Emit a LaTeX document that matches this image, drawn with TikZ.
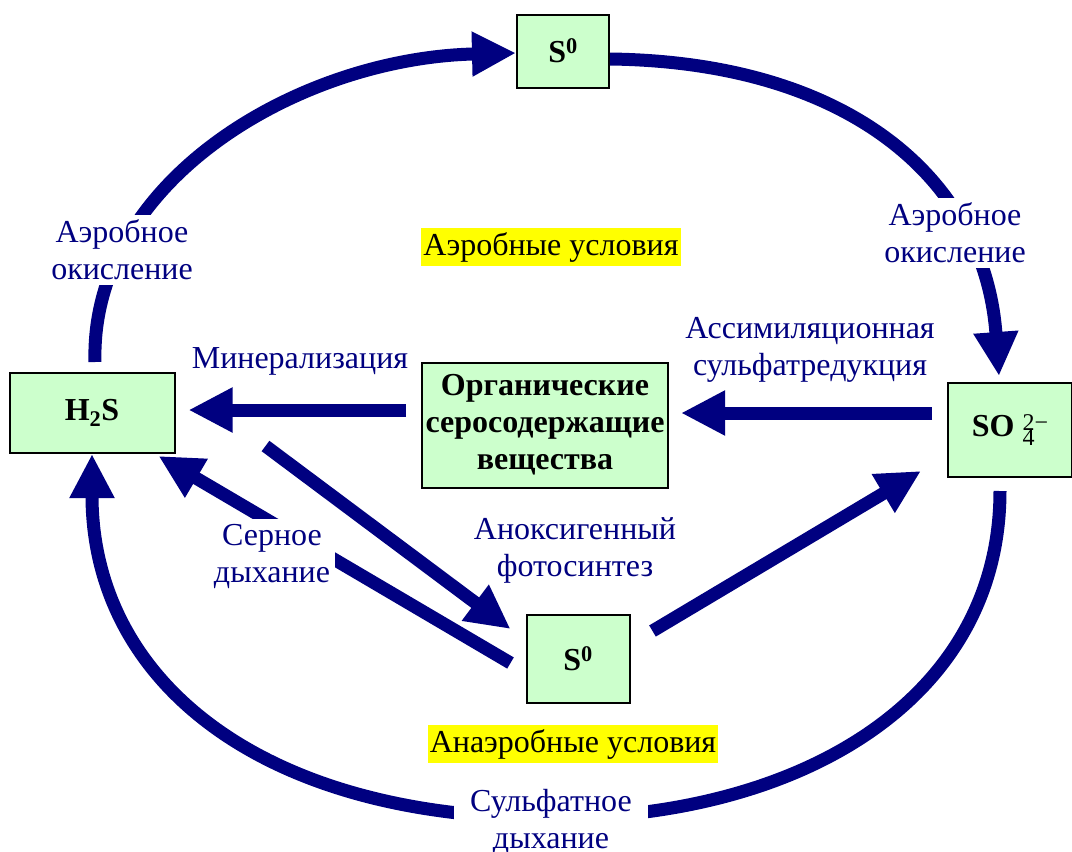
\documentclass[tikz,border=0pt]{standalone}
\usepackage{fontspec}
\setmainfont{Liberation Serif}
\usetikzlibrary{arrows.meta}
\definecolor{navy}{HTML}{000080}
\definecolor{boxgreen}{HTML}{CCFFCC}
\definecolor{hl}{HTML}{FFFF00}
\begin{document}
\begin{tikzpicture}[x=1pt,y=-1pt,
  box/.style={draw=black, line width=2pt, fill=boxgreen, font=\bfseries\fontsize{32}{37}\selectfont, align=center, inner sep=0pt},
  lbl/.style={text=navy, font=\fontsize{32}{37}\selectfont, align=center, fill=white, inner sep=5pt},
  cond/.style={fill=hl, text=black, font=\fontsize{32}{37}\selectfont, inner xsep=2pt, inner ysep=4pt},
  bigarrow/.style={draw=navy, line width=13pt, -{Triangle[length=44pt,width=42pt]}}
  ]
\useasboundingbox (0,0) rectangle (1072,852);
\fill[white] (0,0) rectangle (1072,852);
% boxes
\node[box, minimum width=92pt, minimum height=73pt] (s0top) at (563,51) {S\textsuperscript{0}};
\node[box, minimum width=165pt, minimum height=80pt] (h2s) at (92,413) {H\textsubscript{2}S};
\node[box, minimum width=246pt, minimum height=125pt] (org) at (545,425) {Органические\\серосодержащие\\вещества};
\node[box, minimum width=124pt, minimum height=94pt] (so4) at (1010,430) {SO\hspace{8pt}\raisebox{-9pt}{\mdseries\fontsize{24}{24}\selectfont\shortstack[l]{2−\\[-3pt]4}}};
\node[box, minimum width=103pt, minimum height=88pt] (s0bot) at (578,659) {S\textsuperscript{0}};
% arrows
\draw[bigarrow] ([shift={(3,-10)}]h2s.north) .. controls (90,180) and (300,58) .. ([shift={(0,2)}]s0top.west);
\draw[bigarrow] ([shift={(0,8)}]s0top.east) .. controls (850,62) and (985,180) .. ([shift={(-11,-6)}]so4.north);
\draw[bigarrow] ([shift={(-10,13)}]so4.south) .. controls (1000,700) and (800,818) .. (550,818) .. controls (260,818) and (92,680) .. (h2s.south);
\draw[bigarrow] ([shift={(-15,-15)}]org.west) -- ([shift={(13,-3)}]h2s.east);
\draw[bigarrow] ([shift={(-15,-17)}]so4.west) -- ([shift={(12,-12)}]org.east);
\draw[bigarrow] ([shift={(90,-8)}]h2s.south east) -- ([shift={(-15,15)}]s0bot.north west);
\draw[bigarrow] ([shift={(-15,4)}]s0bot.west) -- ([shift={(-17,2)}]h2s.south east);
\draw[bigarrow] ([shift={(22,17)}]s0bot.north east) -- ([shift={(-26,-7)}]so4.south west);
% labels
\node[lbl] (lAL) at (122,250) {Аэробное\\окисление};
\node[lbl] (lAR) at (955,233) {Аэробное\\окисление};
\node[cond] (cA) at (551,247) {Аэробные условия};
\node[lbl, fill=none] (lmin) at (300,361) {Минерализация};
\node[lbl, fill=none] (lass) at (810,350) {Ассимиляционная\\сульфатредукция};
\node[lbl] (lser) at (272,556) {Серное\\дыхание};
\node[lbl, fill=none] (lanox) at (575,550) {Аноксигенный\\фотосинтез};
\node[cond] (cAn) at (573,744) {Анаэробные условия};
\node[lbl, inner xsep=16pt] (lsulf) at (551,822) {Сульфатное\\дыхание};
\end{tikzpicture}
\end{document}
